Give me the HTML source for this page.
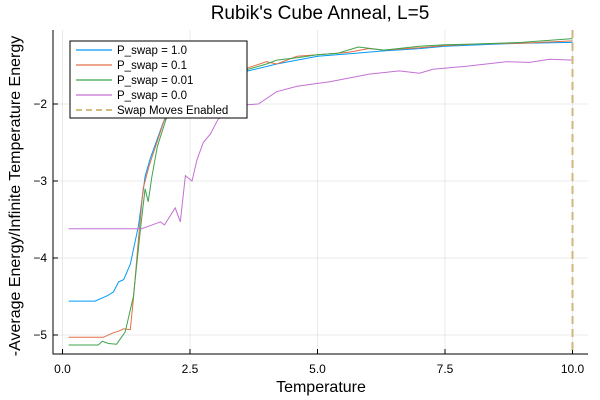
<!DOCTYPE html>
<html><head><meta charset="utf-8"><style>
body{margin:0;background:#fff}
svg{display:block;font-family:"Liberation Sans","DejaVu Sans",sans-serif}
</style></head><body>
<svg id="chart" width="600" height="400">
<text x="320" y="19" text-anchor="middle" font-size="19">Rubik's Cube Anneal, L=5</text>
<text x="321" y="392" text-anchor="middle" font-size="16">Temperature</text>
<text transform="translate(20,196) rotate(-90)" text-anchor="middle" font-size="16">-Average Energy/Infinite Temperature Energy</text>
<g id="grid"></g><g id="axes"></g><g id="series"></g><g id="legend"></g>
</svg>
<script>
const xTicks=[0,2.5,5,7.5,10];
const xTickLabels=["0.0","2.5","5.0","7.5","10.0"];
const yTicks=[-5,-4,-3,-2];
const yTickLabels=["\u22125","\u22124","\u22123","\u22122"];
const tBlue=[0.12,0.64,0.88,1.0,1.1,1.2,1.33,1.49,1.62,1.72,1.98,2.3,2.7,3.2,3.64,4.2,5.0,5.6,6.3,7.0,7.5,8.2,9.0,10.0];
const eBlue=[-4.56,-4.56,-4.49,-4.44,-4.31,-4.28,-4.08,-3.58,-2.94,-2.71,-2.23,-1.9,-1.75,-1.65,-1.57,-1.48,-1.38,-1.35,-1.31,-1.28,-1.25,-1.23,-1.21,-1.2];
const tOrange=[0.12,0.8,1.0,1.1,1.2,1.33,1.39,1.49,1.58,1.7,2.0,2.3,2.7,3.2,3.64,4.0,4.2,4.6,5.0,5.6,6.0,6.3,7.0,7.5,8.2,9.0,10.0];
const eOrange=[-5.03,-5.03,-4.97,-4.95,-4.92,-4.93,-4.53,-3.75,-3.1,-2.8,-2.2,-1.88,-1.72,-1.62,-1.53,-1.45,-1.48,-1.38,-1.36,-1.33,-1.28,-1.3,-1.27,-1.24,-1.22,-1.21,-1.18];
const tGreen=[0.12,0.7,0.78,0.9,1.06,1.23,1.39,1.53,1.62,1.68,1.75,1.86,2.03,2.3,2.7,3.2,3.64,4.0,4.2,4.6,5.0,5.4,5.8,6.3,7.0,7.5,8.2,9.0,10.0];
const eGreen=[-5.13,-5.13,-5.08,-5.11,-5.12,-4.96,-4.5,-3.62,-3.1,-3.27,-2.95,-2.55,-2.2,-1.85,-1.7,-1.6,-1.55,-1.48,-1.43,-1.4,-1.36,-1.34,-1.26,-1.3,-1.25,-1.23,-1.22,-1.2,-1.15];
const tPurple=[0.12,1.55,1.72,1.92,2.0,2.21,2.31,2.41,2.54,2.64,2.76,2.9,3.05,3.4,3.84,4.2,4.6,5.24,6.03,6.6,7.0,7.26,7.92,8.7,9.16,9.55,10.0];
const ePurple=[-3.62,-3.62,-3.58,-3.53,-3.57,-3.35,-3.53,-2.93,-3.0,-2.72,-2.5,-2.39,-2.2,-2.02,-2.0,-1.84,-1.77,-1.71,-1.61,-1.57,-1.6,-1.55,-1.51,-1.45,-1.46,-1.42,-1.43];
const seriesNames=["P_swap = 1.0","P_swap = 0.1","P_swap = 0.01","P_swap = 0.0"];
const swapT=10;
const NS="http://www.w3.org/2000/svg";
const X0=53,X1=588,Y0=30,Y1=354;
function sx(t){return 62.5+51*t;}
function sy(e){return 335-77*(e+5);}
function mk(tag,attrs,parent){const el=document.createElementNS(NS,tag);for(const k in attrs)el.setAttribute(k,attrs[k]);parent.appendChild(el);return el;}
const grid=document.getElementById('grid'),axes=document.getElementById('axes'),ser=document.getElementById('series'),leg=document.getElementById('legend');
xTicks.forEach((v,i)=>{
 const g=mk('line',{x1:sx(v),x2:sx(v),y1:Y0,y2:Y1,stroke:'#000','stroke-opacity':0.08},grid);
 
 
 const tk=mk('line',{x1:sx(v),x2:sx(v),y1:Y1,y2:Y1-5,stroke:'#000'},axes);
 
 
 const t=mk('text',{x:sx(v),y:373,'text-anchor':'middle','font-size':12},axes);t.textContent=xTickLabels[i];
 
 
});
yTicks.forEach((v,i)=>{
 const g=mk('line',{x1:X0,x2:X1,y1:sy(v),y2:sy(v),stroke:'#000','stroke-opacity':0.08},grid);
 
 
 const tk=mk('line',{x1:X0,x2:X0+5,y1:sy(v),y2:sy(v),stroke:'#000'},axes);
 
 
 const t=mk('text',{x:47,y:sy(v)+4,'text-anchor':'end','font-size':12},axes);t.textContent=yTickLabels[i];
 
 
});
const ax=mk('path',{d:`M${X0},${Y0}V${Y1}H${X1}`,fill:'none',stroke:'#000','stroke-width':1},axes);


const colors=['#009af9','#e26f46','#3da44d','#c271d2'];
const data=[[tBlue,eBlue],[tOrange,eOrange],[tGreen,eGreen],[tPurple,ePurple]];
data.forEach((d,i)=>{
 const pts=d[0].map((t,j)=>sx(t).toFixed(1)+','+sy(d[1][j]).toFixed(1)).join(' ');
 const p=mk('polyline',{points:pts,fill:'none',stroke:colors[i],'stroke-width':1},ser);
 
 
});
const sw=mk('line',{x1:sx(swapT),x2:sx(swapT),y1:Y0,y2:Y1,stroke:'#d2b67e','stroke-width':2,'stroke-dasharray':'8,5'},ser);


const box=mk('rect',{x:70,y:41,width:177,height:77,fill:'#fff',stroke:'#000','stroke-width':1},leg);


const labels=seriesNames.concat(['Swap Moves Enabled']);
const lcol=colors.concat(['#b8962e']);
labels.forEach((l,i)=>{
 const y=50+i*15;
 const ln=mk('line',{x1:76,x2:112,y1:y,y2:y,stroke:lcol[i],'stroke-width':1.3},leg);
 if(i==4)ln.setAttribute('stroke-dasharray','6,4');
 
 
 const t=mk('text',{x:117,y:y+4,'font-size':11.5},leg);t.textContent=l;
 
 
});
</script>
</body></html>
